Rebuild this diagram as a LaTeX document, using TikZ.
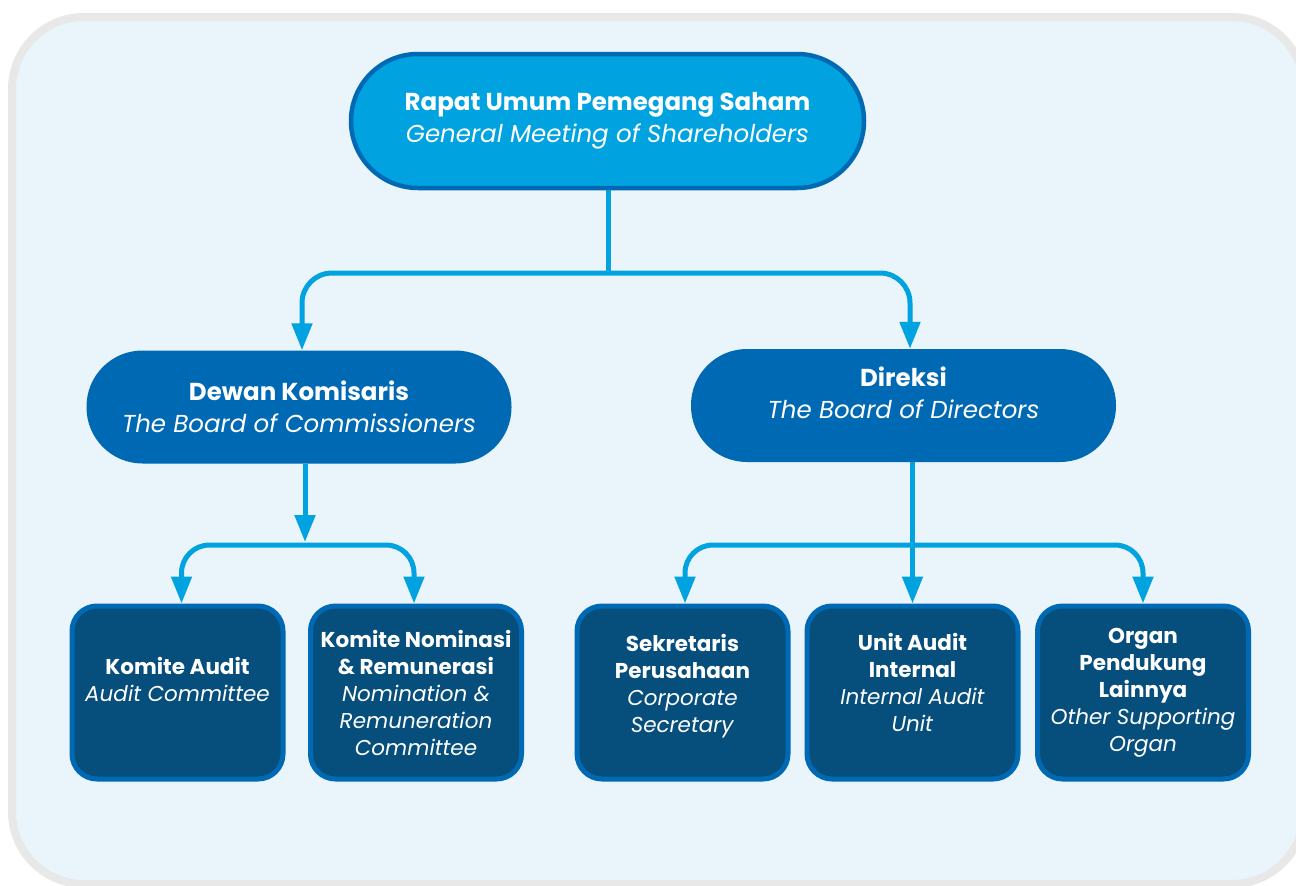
\documentclass[tikz,border=0pt]{standalone}
\usepackage{fontspec}
\setmainfont{Poppins}
\usetikzlibrary{arrows.meta,calc}
\definecolor{bgfill}{HTML}{EAF4FB}
\definecolor{bgline}{HTML}{E8E8E8}
\definecolor{cyanbox}{HTML}{00A3E0}
\definecolor{midblue}{HTML}{0069B4}
\definecolor{darkbox}{HTML}{064E7C}
\definecolor{connc}{HTML}{00A3E0}
\tikzset{
  topbox/.style={draw=midblue, line width=4.5pt, fill=cyanbox, text=white, rounded corners=67pt,
    minimum width=513pt, minimum height=134pt, align=center, inner sep=0pt,
    font=\fontsize{24.5}{32}\selectfont},
  midbox/.style={fill=midblue, text=white, rounded corners=56pt,
    minimum width=425pt, minimum height=113pt, align=center, inner sep=0pt,
    font=\fontsize{24.5}{32}\selectfont},
  lowbox/.style={draw=midblue, line width=5pt, fill=darkbox, text=white, rounded corners=25pt,
    minimum width=211pt, minimum height=173pt, align=center, inner sep=0pt,
    font=\fontsize{21.5}{27}\selectfont},
  conn/.style={draw=connc, line width=5pt},
  tip/.style={-{Triangle[length=27pt,width=20pt]}},
  tips/.style={{Triangle[length=27pt,width=20pt]}-{Triangle[length=27pt,width=20pt]}},
}
\begin{document}
\begin{tikzpicture}[x=1pt,y=-1pt]
\useasboundingbox (0,0) rectangle (1296,886);
\draw[line width=8pt, draw=bgline, fill=bgfill, rounded corners=72pt] (12,17) rectangle (1304,884);

\node[topbox] (rups) at (607.5,121) {\textbf{Rapat Umum Pemegang Saham}\\\textit{General Meeting of Shareholders}};
\node[midbox] (dewan) at (299,407) {\textbf{Dewan Komisaris}\\\textit{The Board of Commissioners}};
\node[midbox] (direksi) at (903.5,405.5) {\textbf{Direksi}\\\textit{The Board of Directors}\\[-6pt]\mbox{}};

\node[lowbox] (kaudit) at (177.5,692.5) {\textbf{Komite Audit}\\\textit{Audit Committee}\\[0pt]\mbox{}};
\node[lowbox] (knom) at (416,692.5) {\textbf{Komite Nominasi}\\\textbf{\& Remunerasi}\\\textit{Nomination \&}\\\textit{Remuneration}\\\textit{Committee}};
\node[lowbox] (sek) at (682.5,692.5) {\textbf{Sekretaris}\\\textbf{Perusahaan}\\\textit{Corporate}\\\textit{Secretary}\\[-8pt]\mbox{}};
\node[lowbox] (unit) at (912.5,692.5) {\textbf{Unit Audit}\\\textbf{Internal}\\\textit{Internal Audit}\\\textit{Unit}\\[-6pt]\mbox{}};
\node[lowbox] (organ) at (1143,692.5) {\textbf{Organ}\\\textbf{Pendukung}\\\textbf{Lainnya}\\\textit{Other Supporting}\\\textit{Organ}};

\coordinate (j1) at (608,273);
\coordinate (j2) at (305,545);
\coordinate (j2t) at (305,542);
\coordinate (j3) at (913,545);

% top level
\draw[conn] (rups.south -| j1) -- (j1);
\draw[conn, tips, rounded corners=30pt] ([xshift=3pt]dewan.north) |- (j1) -| ([xshift=6.5pt]direksi.north);

% commissioners
\draw[conn, tip] (dewan.south -| j2) -- (j2t);
\draw[conn, tips, rounded corners=28pt] ([xshift=4pt]kaudit.north) |- (j2) -| ([xshift=-2pt]knom.north);

% directors
\draw[conn, tip] (direksi.south -| unit.north) -- (unit.north);
\draw[conn, tips, rounded corners=28pt] ([xshift=2.5pt]sek.north) |- (j3) -| (organ.north);
\end{tikzpicture}
\end{document}
